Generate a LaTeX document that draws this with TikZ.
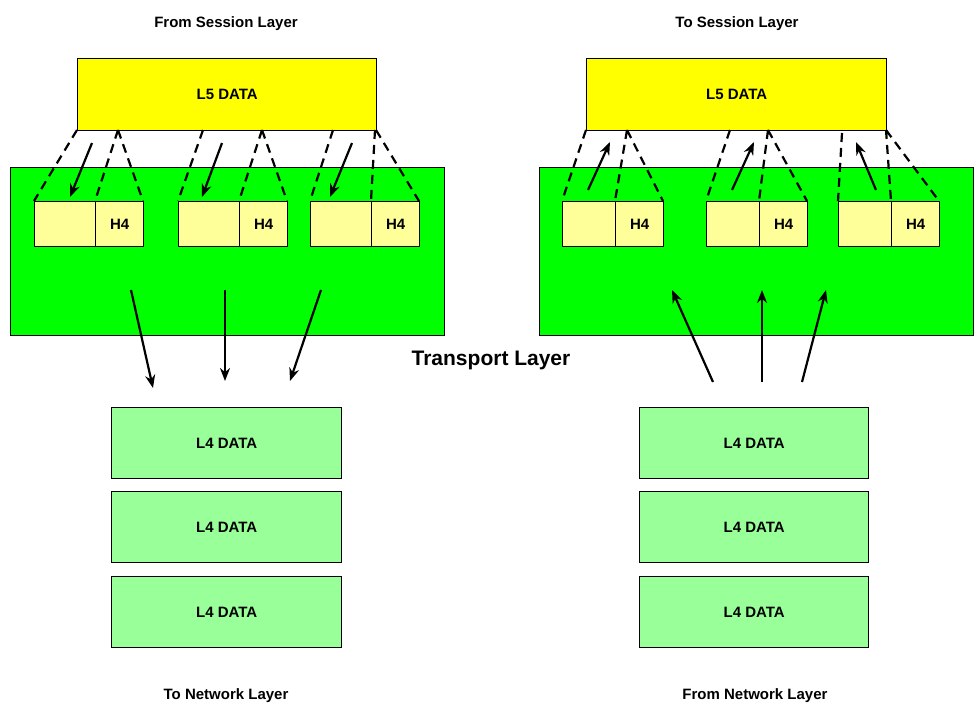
\documentclass[tikz,border=0pt]{standalone}
\usepackage{fontspec}
\setmainfont{Liberation Sans}
\usetikzlibrary{arrows.meta}
\definecolor{yel}{HTML}{FFFF00}
\definecolor{grn}{HTML}{00FF00}
\definecolor{lgrn}{HTML}{99FF99}
\definecolor{pale}{HTML}{FFFF99}
\begin{document}
\begin{tikzpicture}[x=1pt,y=-1pt,
 box/.style={draw=black,line width=1.3pt,anchor=north west,inner sep=0pt},
 lbl/.style={font=\bfseries\fontsize{15}{18}\selectfont},
 dsh/.style={line width=2.2pt,dash pattern=on 9pt off 6pt},
 arr/.style={line width=2.2pt,-{Stealth[length=13pt,width=10pt]}}]
\useasboundingbox (0,0) rectangle (980,718);
% left
\node[box,fill=yel,minimum width=299pt,minimum height=72pt] (l5a) at (77,58) {};
\node[lbl] at (l5a.center) {L5 DATA};
\node[box,fill=grn,minimum width=434pt,minimum height=168pt] (ga) at (10,167) {};
\foreach \x/\n in {34/a1,178/a2,310/a3}{
 \node[box,fill=pale,minimum width=61pt,minimum height=45pt] (\n e) at (\x,201) {};
 \node[box,fill=pale,minimum width=48pt,minimum height=45pt] (\n h) at (\x+61,201) {};
 \node[lbl] at (\n h.center) {H4};}
\draw[dsh] (77,130)--(34,201) (118,130)--(95,201) (118,130)--(143,201);
\draw[dsh] (203,130)--(178,201) (262,130)--(239,201) (262,130)--(287,201);
\draw[dsh] (333,130)--(310,201) (375,130)--(371,201) (376,130)--(419,201);
\draw[arr] (92,143)--(70,197);
\draw[arr] (222,143)--(202,197);
\draw[arr] (352,143)--(330,197);
\draw[arr] (131,290)--(153,388);
\draw[arr] (225,290)--(225,381);
\draw[arr] (321,290)--(290,381);
\foreach \y/\n in {407/b1,491/b2,576/b3}{
 \node[box,fill=lgrn,minimum width=230pt,minimum height=71pt] (\n) at (111,\y) {};
 \node[lbl] at (\n.center) {L4 DATA};}
\node[lbl] (t1) at (226,24) {From Session Layer};
\node[lbl] (t2) at (226,696) {To Network Layer};
% right
\node[box,fill=yel,minimum width=300pt,minimum height=72pt] (l5b) at (586,58) {};
\node[lbl] at (l5b.center) {L5 DATA};
\node[box,fill=grn,minimum width=434pt,minimum height=168pt] (gb) at (539,167) {};
\foreach \x/\n in {562/c1,706/c2,838/c3}{
 \node[box,fill=pale,minimum width=53pt,minimum height=45pt] (\n e) at (\x,201) {};
 \node[box,fill=pale,minimum width=48pt,minimum height=45pt] (\n h) at (\x+53,201) {};
 \node[lbl] at (\n h.center) {H4};}
\draw[dsh] (586,130)--(562,201) (627,130)--(615,201) (627,130)--(663,201);
\draw[dsh] (730,130)--(706,201) (768,130)--(759,201) (768,130)--(807,201);
\draw[dsh] (842,133)--(838,201) (886,130)--(891,201) (886,130)--(939,201);
\draw[arr] (588,190)--(610,142);
\draw[arr] (732,190)--(754,142);
\draw[arr] (876,190)--(856,142);
\draw[arr] (713,382)--(672,290);
\draw[arr] (762,382)--(762,290);
\draw[arr] (802,382)--(826,290);
\foreach \y/\n in {407/d1,491/d2,576/d3}{
 \node[box,fill=lgrn,minimum width=229pt,minimum height=71pt] (\n) at (639,\y) {};
 \node[lbl] at (\n.center) {L4 DATA};}
\node[lbl] (t3) at (737,24) {To Session Layer};
\node[lbl] (t4) at (755,696) {From Network Layer};
\node[font=\bfseries\fontsize{21}{25}\selectfont] (tl) at (491,360) {Transport Layer};
\end{tikzpicture}
\end{document}
